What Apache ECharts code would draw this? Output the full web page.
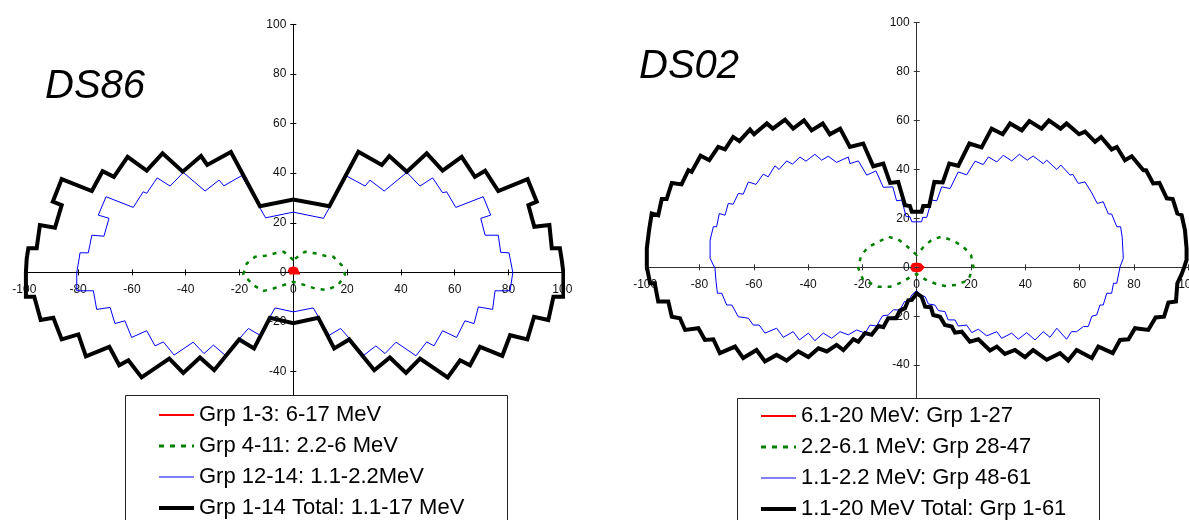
<!DOCTYPE html>
<html>
<head>
<meta charset="utf-8">
<title>DS86 / DS02</title>
<script src="https://cdn.jsdelivr.net/npm/echarts@6/dist/echarts.min.js"></script>
<style>
html, body { margin: 0; padding: 0; background: #fff; }
#chart { width: 1189px; height: 520px; }
</style>
</head>
<body>
<div id="chart"></div>
<script>
// DS86 curves, [x, y]
var ds86Red = [[-1.5,0],[-1,1.2],[0,1.6],[1,1.2],[1.5,0],[0,0],[-1.5,0]];
var ds86Green = [[0,5.0],[-3.5,8.3],[-6.8,7.7],[-10.5,6.7],[-14.2,6.3],[-17.3,3.6],[-18.6,-0.8],[-14.9,-5.1],[-11.2,-7.5],[-7.4,-6.5],[-3.7,-5.1],[0,-3.8],
	[4.3,-5.1],[8.1,-6.5],[12.4,-7.1],[16.7,-5.1],[19.2,-0.8],[18.0,2.9],[14.9,6.3],[11.8,6.7],[8.1,7.7],[4.3,8.3],[0,5.0]];
var ds86Blue = [[-80.5,0],[-79.6,5.6],[-79.3,7.9],[-76.2,7.9],[-74.9,15.0],[-70.4,14.6],[-68.5,21.8],[-72.5,23.1],[-69.6,30.5],[-59.5,26.2],[-55.8,32.5],[-54.5,31.9],
	[-50.6,38.1],[-45.8,34.8],[-40.9,40.3],[-32.8,32.8],[-27.6,37.2],[-25.8,34.9],[-19.2,39.0],[-10.3,22.0],[0,24.3],[11.2,21.8],[19.9,38.8],[26.7,34.8],
	[28.5,37.2],[33.8,32.8],[42.2,40.3],[47.1,34.8],[51.8,38.1],[55.5,32.1],[57.0,32.5],[60.4,26.2],[70.6,30.5],[73.4,23.1],[69.7,21.8],[71.3,15.0],
	[76.2,15.0],[77.1,8.1],[80.2,7.9],[80.6,5.6],[81.6,0],[80.6,-7.4],[75.0,-7.4],[74.1,-14.9],[68.8,-13.9],[67.2,-20.6],[63.8,-19.5],[60.7,-26.2],
	[55.5,-23.5],[52.3,-29.6],[49.6,-28.0],[45.6,-33.6],[38.2,-28.1],[34.1,-32.7],[30.7,-29.6],[26.3,-33.3],[17.6,-22.6],[13.4,-25.3],[7.4,-14.3],
	[0,-15.9],[-6.8,-14.3],[-12.4,-25.3],[-16.7,-22.6],[-25.4,-33.3],[-29.7,-29.3],[-33.2,-32.7],[-37.2,-28.1],[-44.3,-33.3],[-48.3,-28.0],[-51.4,-29.6],
	[-54.5,-23.5],[-60.1,-26.2],[-62.6,-19.5],[-66.3,-20.6],[-68.1,-14.1],[-73.1,-14.9],[-74.3,-7.4],[-80.5,-7.4],[-80.5,0]];
var ds86Total = [[-99.4,0],[-99.1,5.6],[-98.5,9.7],[-95.4,9.7],[-94.2,19.1],[-88.6,18.0],[-86.1,27.1],[-89.4,28.5],[-86.1,37.6],[-74.9,32.8],[-70.9,40.8],
	[-66.7,38.5],[-61.6,46.6],[-54.5,41.0],[-48.6,48.0],[-41.1,40.6],[-34.3,46.9],[-32.0,43.3],[-23.2,48.5],[-12.4,26.7],[0,29.4],[13.4,26.7],[24.2,48.6],
	[32.9,43.3],[35.7,46.9],[42.2,40.6],[49.6,48.0],[55.5,41.0],[62.6,46.6],[67.5,38.5],[71.3,41.0],[76.2,32.8],[87.1,37.6],[90.5,28.5],[87.4,27.1],
	[89.6,18.4],[95.2,19.1],[96.1,9.7],[99.1,9.7],[99.8,5.0],[100.4,0],[100.4,-9.8],[96.7,-9.8],[94.8,-19.2],[89.5,-17.9],[87.0,-27.0],[80.6,-25.3],
	[77.7,-33.6],[69.4,-30.0],[65.7,-37.4],[62.0,-35.4],[57.4,-42.3],[47.1,-34.7],[41.9,-40.5],[35.9,-34.3],[30.1,-39.4],[20.8,-27.0],[15.2,-30.6],
	[9.3,-18.3],[0,-20.5],[-8.7,-18.3],[-14.6,-30.6],[-20.1,-27.0],[-29.4,-39.4],[-34.7,-34.3],[-40.9,-40.5],[-46.1,-34.7],[-56.4,-42.3],[-61.3,-35.4],
	[-64.7,-37.4],[-68.4,-30.0],[-77.1,-33.8],[-79.9,-25.0],[-86.1,-27.0],[-89.2,-18.3],[-93.9,-19.2],[-96.3,-9.8],[-99.4,-9.8],[-99.4,0]];

// DS02 curves
var ds02Red = [[-1.8,0],[-1.2,0.9],[0,1.1],[1.2,0.9],[2.0,0],[1.2,-1.0],[0,-1.3],[-1.2,-1.0],[-1.8,0]];
var ds02Green = [[0,5.0],[-3.7,8.7],[-6.8,11.4],[-10.5,12.5],[-14.1,10.4],[-17.8,8.4],[-20.3,5.0],[-21.7,0.2],[-19.7,-5.2],[-14.1,-7.9],[-9.8,-7.9],
	[-6.2,-6.5],[-2.5,-4.1],[0,-2.7],[3.1,-4.9],[6.5,-6.5],[10.4,-7.6],[14.7,-7.2],[19.0,-5.2],[20.9,0.2],[20.0,5.0],[17.2,8.4],[13.5,10.9],[9.2,12.5],
	[5.7,11.4],[2.4,8.2],[0,5.0]];
var ds02Blue = [[-74.3,-0.4],[-76.1,3.7],[-76.1,11.1],[-74.9,16.6],[-73.7,16.6],[-72.7,22.0],[-70.6,21.3],[-69.4,26.1],[-67.6,25.8],[-65.7,30.2],
	[-63.9,29.9],[-62.0,34.9],[-59.2,33.9],[-56.5,38.1],[-54.7,37.0],[-52.2,41.5],[-50.7,40.0],[-47.9,43.5],[-45.7,42.2],[-43.0,45.1],[-40.8,43.4],
	[-37.5,46.2],[-35.0,43.8],[-32.6,45.4],[-29.5,42.9],[-25.2,45.1],[-24.6,42.4],[-21.5,43.5],[-18.4,37.7],[-15.0,39.4],[-12.3,32.7],[-8.8,32.9],
	[-7.4,27.2],[-5.5,27.5],[-3.9,20.7],[-2.5,20.7],[-1.8,18.6],[1.8,18.6],[2.2,20.4],[3.7,20.4],[5.5,27.5],[7.4,27.2],[9.2,32.9],[12.3,32.2],
	[15.3,39.0],[18.4,37.8],[21.5,43.4],[24.5,42.0],[26.4,45.1],[29.5,43.1],[31.9,45.8],[35.0,43.5],[37.8,46.2],[40.7,43.8],[42.9,45.5],[46.6,42.4],
	[47.9,43.8],[51.6,40.0],[53.1,41.8],[56.5,37.7],[57.5,38.0],[59.5,34.3],[62.0,34.9],[64.5,30.4],[66.5,26.1],[68.7,26.8],[70.6,21.8],[71.8,21.8],
	[73.7,16.6],[75.1,16.6],[75.7,12.2],[76.1,3.7],[74.9,0.2],[73.7,-6.5],[72.5,-6.5],[71.8,-10.6],[70.0,-10.6],[68.7,-15.4],[67.5,-15.4],[66.3,-19.5],
	[64.5,-20.0],[63.2,-24.2],[61.4,-24.2],[58.9,-26.3],[57.0,-26.3],[55.2,-29.4],[51.6,-24.9],[49.1,-28.6],[46.6,-26.3],[43.6,-29.7],[40.5,-26.7],
	[37.4,-29.4],[35.0,-26.9],[31.3,-29.0],[29.5,-26.3],[25.8,-28.0],[22.7,-25.3],[20.3,-26.7],[18.4,-23.6],[15.3,-24.0],[14.1,-21.5],[11.6,-21.5],
	[10.4,-18.1],[8.0,-17.7],[6.7,-15.4],[4.3,-15.0],[3.1,-12.0],[1.2,-11.3],[0,-9.5],[-1.8,-11.3],[-3.1,-14.0],[-4.5,-14.0],[-6.2,-17.4],[-8.6,-17.4],
	[-10.5,-19.5],[-12.5,-19.8],[-13.5,-21.5],[-14.7,-24.0],[-17.2,-23.6],[-19.0,-26.9],[-22.1,-25.6],[-25.2,-27.6],[-28.2,-26.3],[-31.3,-29.0],
	[-34.4,-26.9],[-37.5,-30.0],[-39.9,-26.9],[-43.2,-29.7],[-45.5,-26.3],[-49.1,-28.6],[-51.6,-24.9],[-55.9,-26.9],[-58.0,-23.6],[-60.2,-23.6],
	[-62.0,-20.8],[-65.7,-20.2],[-68.1,-15.4],[-70.0,-15.4],[-71.8,-10.6],[-73.4,-10.6],[-73.9,-5.9],[-74.3,-0.4]];
var ds02Total = [[-99.4,0.2],[-99.4,3.7],[-99.4,7.8],[-98.6,15.0],[-97.6,22.0],[-95.2,21.3],[-93.9,27.9],[-92.1,27.9],[-90.2,34.5],[-86.6,33.9],
	[-84.1,39.7],[-82.9,39.0],[-79.6,45.6],[-76.4,43.8],[-73.1,49.2],[-70.6,48.2],[-67.6,53.3],[-65.3,51.6],[-61.4,56.3],[-59.9,54.4],[-55.2,58.8],
	[-53.0,56.7],[-48.5,60.4],[-45.5,56.7],[-41.5,60.1],[-38.7,56.0],[-34.6,58.8],[-32.0,54.4],[-28.2,56.7],[-24.6,49.2],[-19.7,50.6],[-16.0,41.3],
	[-12.3,42.4],[-9.8,34.5],[-6.8,34.9],[-4.3,25.4],[-2.5,25.1],[-1.8,22.7],[1.8,22.7],[2.4,25.1],[4.6,25.1],[6.5,34.9],[9.6,34.7],[12.0,42.4],
	[15.3,41.5],[19.4,50.6],[23.9,49.0],[27.6,56.7],[31.7,54.4],[34.4,58.8],[38.7,56.0],[41.5,59.8],[46.0,56.7],[48.7,60.1],[53.0,56.7],[55.2,58.8],
	[59.8,54.4],[62.0,55.5],[65.7,51.3],[67.9,53.3],[71.8,48.2],[73.7,49.2],[76.7,43.8],[79.2,45.4],[83.5,39.7],[84.5,39.7],[87.1,34.3],[89.4,34.5],
	[92.1,28.2],[94.3,27.9],[96.0,22.0],[97.6,21.3],[98.8,15.2],[99.4,7.8],[99.4,3.0],[98.5,0],[97.5,-3.0],[96.0,-6.5],[95.5,-14.0],[92.7,-14.4],
	[91.1,-20.2],[88.0,-20.5],[85.3,-25.6],[80.4,-24.9],[78.0,-29.4],[74.9,-29.7],[72.2,-35.1],[66.9,-32.4],[64.5,-37.1],[58.9,-33.8],[55.8,-38.1],
	[52.8,-35.1],[47.9,-37.8],[42.9,-33.8],[39.9,-36.7],[36.2,-33.8],[32.5,-35.4],[29.5,-32.4],[27.0,-34.0],[22.7,-29.4],[19.6,-30.4],[16.6,-26.3],
	[14.1,-26.7],[12.9,-24.2],[10.4,-23.6],[8.6,-20.2],[6.1,-19.5],[5.2,-16.3],[3.1,-16.1],[1.8,-12.0],[0,-10.6],[-1.8,-13.3],[-3.1,-13.5],[-4.3,-16.7],
	[-6.2,-17.7],[-7.6,-20.8],[-10.5,-20.8],[-12.3,-24.5],[-14.1,-24.0],[-16.6,-27.6],[-19.0,-26.9],[-21.5,-30.4],[-23.3,-29.4],[-27.0,-33.8],
	[-29.5,-31.7],[-33.1,-34.4],[-36.2,-33.1],[-39.9,-36.7],[-43.6,-34.4],[-47.9,-38.1],[-51.6,-35.8],[-55.9,-38.5],[-59.0,-33.8],[-63.9,-37.1],
	[-66.9,-32.4],[-72.5,-35.1],[-74.9,-29.4],[-78.0,-29.7],[-80.4,-24.9],[-85.3,-25.6],[-87.2,-20.8],[-90.2,-20.2],[-91.5,-14.0],[-95.2,-14.0],
	[-96.5,-6.5],[-98.2,-6.5],[-99.4,0.2]];

var ds86Names = ['Grp 1-3: 6-17 MeV', 'Grp 4-11: 2.2-6 MeV', 'Grp 12-14: 1.1-2.2MeV', 'Grp 1-14 Total: 1.1-17 MeV'];
var ds02Names = ['6.1-20 MeV: Grp 1-27', '2.2-6.1 MeV: Grp 28-47', '1.1-2.2 MeV: Grp 48-61', '1.1-20 MeV Total: Grp 1-61'];

var FONT = 'Arial, "Liberation Sans", sans-serif';
var Y_MIN = -60, Y_MAX = 100;

// plot boxes in pixels: [left, top, width, height]
var boxes = [[24.3, 24.3, 538, 397], [645.2, 22.7, 543, 391.4]];

// legend sample line per row: red, green, blue, black
var legendLines = [
	{ color: '#ff0000', width: 2, type: 'solid' },
	{ color: '#008000', width: 3, type: [5, 6] },
	{ color: '#0000ff', width: 1, type: 'solid' },
	{ color: '#000000', width: 4, type: 'solid' }
];

/**
 * axes cross at the origin: the axis is pushed into the grid with a negative offset,
 * a twin axis on the other side draws the second half of each tick
 */
function xAxes(grid, color) {
	var b = boxes[grid];
	var zeroY = b[1] + b[3] * Y_MAX / (Y_MAX - Y_MIN);
	return [{
		type: 'value', gridIndex: grid, min: -100, max: 100, interval: 20, position: 'bottom',
		offset: -(b[1] + b[3] - zeroY),
		axisLine: { onZero: false, lineStyle: { color: color, width: 1 } },
		axisTick: { show: true, length: 3, lineStyle: { color: color } },
		axisLabel: { color: '#111', fontSize: 12, fontFamily: FONT, margin: 11 },
		splitLine: { show: false }
	}, {
		type: 'value', gridIndex: grid, min: -100, max: 100, interval: 20, position: 'top',
		offset: -(zeroY - b[1]),
		axisLine: { show: false, onZero: false },
		axisTick: { show: true, length: 3, lineStyle: { color: color } },
		axisLabel: { show: false },
		splitLine: { show: false }
	}];
}
function yAxes(grid, color) {
	var b = boxes[grid];
	var half = b[2] / 2;
	return [{
		type: 'value', gridIndex: grid, min: Y_MIN, max: Y_MAX, interval: 20, position: 'left',
		offset: -half,
		axisLine: { onZero: false, lineStyle: { color: color, width: 1 } },
		axisTick: { show: true, length: 3, lineStyle: { color: color } },
		axisLabel: { color: '#111', fontSize: 12, fontFamily: FONT, margin: 7 },
		splitLine: { show: false }
	}, {
		type: 'value', gridIndex: grid, min: Y_MIN, max: Y_MAX, interval: 20, position: 'right',
		offset: -half,
		axisLine: { show: false, onZero: false },
		axisTick: { show: true, length: 3, lineStyle: { color: color } },
		axisLabel: { show: false },
		splitLine: { show: false }
	}];
}

function curve(name, data, axisIndex, color, width, dashed) {
	return {
		name: name,
		type: 'line',
		xAxisIndex: axisIndex,
		yAxisIndex: axisIndex,
		data: data,
		symbol: 'none',
		showSymbol: false,
		smooth: false,
		clip: false,
		animation: false,
		lineStyle: { color: color, width: width, type: dashed ? [4, 6] : 'solid', join: 'miter' },
		itemStyle: { color: color }
	};
}

function legendFor(names, left, top) {
	var items = [];
	for (var i = 0; i < names.length; i++) {
		items.push({ name: names[i], lineStyle: legendLines[i], itemStyle: { opacity: 0 } });
	}
	return {
		orient: 'vertical', left: left, top: top, itemWidth: 35, itemHeight: 12, itemGap: 9, z: 10,
		selectedMode: false, padding: 0,
		itemStyle: { opacity: 0 },
		textStyle: { fontSize: 22, fontFamily: FONT, color: '#000' },
		data: items
	};
}

var myChart = echarts.init(document.getElementById('chart'));
var option = {
	backgroundColor: '#fff',
	animation: false,
	title: [
		{ text: 'DS86', left: 40, top: 62, textStyle: { fontSize: 40, fontStyle: 'italic', fontWeight: 'normal', fontFamily: FONT, color: '#000' } },
		{ text: 'DS02', left: 634, top: 42, textStyle: { fontSize: 40, fontStyle: 'italic', fontWeight: 'normal', fontFamily: FONT, color: '#000' } }
	],
	grid: [
		{ left: boxes[0][0], top: boxes[0][1], width: boxes[0][2], height: boxes[0][3], containLabel: false, outerBoundsMode: 'none' },
		{ left: boxes[1][0], top: boxes[1][1], width: boxes[1][2], height: boxes[1][3], containLabel: false, outerBoundsMode: 'none' }
	],
	xAxis: xAxes(0, '#000').concat(xAxes(1, '#333')),
	yAxis: yAxes(0, '#000').concat(yAxes(1, '#333')),
	legend: [legendFor(ds86Names, 157, 404), legendFor(ds02Names, 759, 405)],
	graphic: [
		{ type: 'rect', z: 8, shape: { x: 125.5, y: 395.5, width: 382, height: 200 }, style: { fill: '#fff', stroke: '#222', lineWidth: 1 } },
		{ type: 'rect', z: 8, shape: { x: 737.5, y: 398.5, width: 362, height: 200 }, style: { fill: '#fff', stroke: '#222', lineWidth: 1 } }
	],
	series: [
		curve(ds86Names[0], ds86Red, 0, '#ff0000', 4, false),
		curve(ds86Names[1], ds86Green, 0, '#008000', 2.5, true),
		curve(ds86Names[2], ds86Blue, 0, '#0000ff', 1, false),
		curve(ds86Names[3], ds86Total, 0, '#000000', 4, false),
		curve(ds02Names[0], ds02Red, 2, '#ff0000', 4, false),
		curve(ds02Names[1], ds02Green, 2, '#008000', 2.5, true),
		curve(ds02Names[2], ds02Blue, 2, '#0000ff', 1, false),
		curve(ds02Names[3], ds02Total, 2, '#000000', 4, false)
	]
};
myChart.setOption(option);
</script>
</body>
</html>
